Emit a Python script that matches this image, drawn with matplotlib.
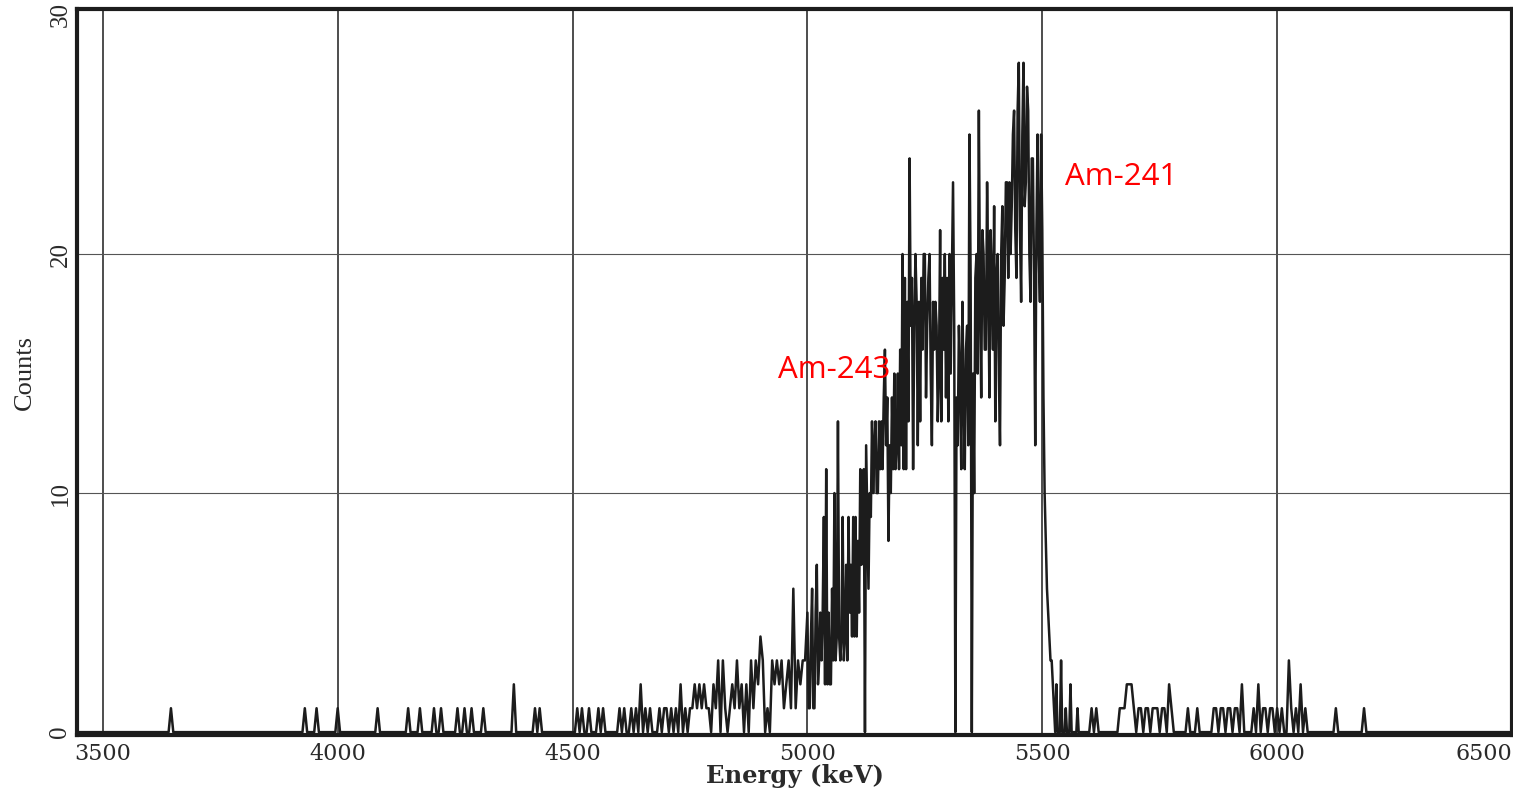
import matplotlib
matplotlib.use("Agg")
import matplotlib.pyplot as plt
import numpy as np

# -------------------------- Data --------------------------
# isolated counts on the low side (keV, counts), 5 keV channels
low_kev = [3645, 3930, 3955, 4000, 4085, 4150, 4175, 4205, 4220, 4255, 4270, 4285,
           4310, 4375, 4420, 4430, 4510, 4520, 4535, 4555, 4565, 4600, 4610, 4625,
           4635, 4645, 4655, 4665]
low_counts = [1, 1, 1, 1, 1, 1, 1, 1, 1, 1, 1, 1,
              1, 2, 1, 1, 1, 1, 1, 1, 1, 1, 1, 1,
              1, 2, 1, 1]

# rising tail, 5 keV channels from 4680 keV to 4995 keV
tail_start_kev = 4680
tail_counts = [
    0, 1, 0, 1, 1, 0, 1, 0, 1, 0,        # 4680
    2, 0, 1, 0, 1, 1, 2, 1, 2, 1,        # 4730
    2, 1, 1, 0, 2, 1, 3, 0, 3, 1,        # 4780
    0, 1, 2, 1, 3, 1, 2, 0, 2, 0,        # 4830
    3, 1, 3, 2, 4, 3, 0, 1, 0, 3,        # 4880
    2, 3, 2, 3, 1, 2, 3, 1, 6, 1,        # 4930
    3, 2, 3, 3,                          # 4980
]

# Am-243 / Am-241 peaks, 2.5 keV channels from 5000 keV
peak_start_kev = 5000
peak_counts = [
    5, 1, 1, 4, 6, 1, 1, 5, 7, 2, 3, 5, 3, 5, 9, 2, 11, 2, 5, 2,             # 5000
    2, 6, 3, 10, 3, 4, 13, 4, 3, 4, 9, 3, 4, 7, 3, 9, 5, 7, 4, 9,            # 5050
    4, 9, 4, 8, 5, 11, 7, 10, 11, 0, 12, 9, 6, 10, 9, 13, 10, 12, 13, 10,    # 5100
    10, 13, 11, 13, 11, 14, 16, 12, 14, 8, 12, 10, 14, 11, 15, 11, 12, 15, 11, 16,  # 5150
    12, 20, 11, 19, 11, 18, 13, 24, 17, 19, 11, 17, 20, 18, 12, 18, 13, 19, 16, 20,  # 5200
    20, 14, 17, 19, 20, 15, 12, 18, 16, 18, 17, 13, 15, 21, 13, 19, 16, 20, 14, 19,  # 5250
    13, 20, 15, 19, 23, 17, 0, 14, 12, 17, 15, 11, 18, 14, 11, 16, 17, 12, 25, 19,   # 5300
    0, 15, 10, 19, 20, 15, 26, 18, 14, 21, 20, 16, 16, 23, 19, 14, 21, 19, 16, 22,   # 5350
    13, 19, 20, 15, 12, 20, 22, 17, 19, 23, 23, 19, 23, 20, 22, 25, 26, 21, 19, 26,  # 5400
    28, 21, 18, 25, 28, 22, 23, 27, 26, 20, 18, 24, 24, 19, 12, 21, 25, 20, 18, 25,  # 5450
    21, 14, 10, 8, 6, 5, 4, 3, 3, 2, 1, 0, 2, 0, 0, 0, 3, 0, 0, 0,           # 5500
    1, 0, 0, 0, 2, 0, 0, 0, 0, 0, 1, 0,                                       # 5550
]

# isolated counts on the high side (keV, counts), 5 keV channels
high_kev = [5605, 5615, 5665, 5670, 5675, 5680, 5685, 5690, 5695, 5705, 5710, 5720,
            5725, 5735, 5740, 5745, 5755, 5760, 5770, 5775, 5810, 5830, 5865, 5870,
            5880, 5885, 5895, 5900, 5910, 5915, 5925, 5950, 5960, 5970, 5975, 5985,
            5990, 6000, 6010, 6025, 6030, 6040, 6050, 6060, 6125, 6185]
high_counts = [1, 1, 1, 1, 1, 2, 2, 2, 1, 1, 1, 1,
               1, 1, 1, 1, 1, 1, 2, 1, 1, 1, 1, 1,
               1, 1, 1, 1, 1, 1, 2, 1, 2, 1, 1, 1,
               1, 1, 1, 3, 1, 1, 2, 1, 1, 1]

x_ticks = [3500, 4000, 4500, 5000, 5500, 6000, 6500]
y_ticks = [0, 10, 20, 30]

# -------------------------- Assemble the channels --------------------------
e_low = np.arange(3445, peak_start_kev, 5)
c_low = np.zeros(len(e_low))
for e, c in zip(low_kev, low_counts):
    c_low[(e - 3445) // 5] = c
i0 = (tail_start_kev - 3445) // 5
c_low[i0:i0 + len(tail_counts)] = tail_counts

e_peak = peak_start_kev + 2.5 * np.arange(len(peak_counts))

e_high = np.arange(5580, 6505, 5)
c_high = np.zeros(len(e_high))
for e, c in zip(high_kev, high_counts):
    c_high[(e - 5580) // 5] = c

energy = np.concatenate([e_low, e_peak, e_high])
counts = np.concatenate([c_low, np.array(peak_counts, float), c_high])

# -------------------------- Plot --------------------------
W, H = 1513, 790
fig = plt.figure(figsize=(W / 100, H / 100), dpi=100)
left, right, top, bottom = 77, 1512, 9, 735
ax = fig.add_axes([left / W, (H - bottom) / H, (right - left) / W, (bottom - top) / H])

ink = '#1c1c1c'
for xv in x_ticks[:-1]:
    ax.axvline(xv, color=ink, lw=1.1, zorder=1)
for yv in [10, 20]:
    ax.axhline(yv, color='#555555', lw=0.8, zorder=1)

ax.plot(energy, counts, color=ink, lw=1.8, zorder=3)

ax.set_xlim(3445, 6500)
ax.set_ylim(-0.12, 30.25)
ax.set_xticks(x_ticks)
ax.set_yticks(y_ticks)
ax.tick_params(length=0)
ax.tick_params(axis='x', pad=6)
ax.tick_params(axis='y', pad=4)
for lbl in ax.get_xticklabels():
    lbl.set_fontfamily('DejaVu Serif')
    lbl.set_fontsize(16)
    lbl.set_color('#2a2a2a')
ax.get_xticklabels()[-1].set_ha('right')
for lbl in ax.get_yticklabels():
    lbl.set_fontfamily('Liberation Serif')
    lbl.set_fontsize(18)
    lbl.set_rotation(90)
    lbl.set_va('center')
    lbl.set_color('#2a2a2a')

for s in ax.spines.values():
    s.set_linewidth(3)
    s.set_color(ink)

ax.set_xlabel('Energy (keV)', fontfamily='DejaVu Serif', fontweight='bold',
              fontsize=17.5, color='#2a2a2a', labelpad=-1)
ax.set_ylabel('Counts', fontfamily='Liberation Serif', fontsize=19,
              color='#2a2a2a', labelpad=10)

ax.text(5548, 22.9, 'Am-241', color='#ff0000', fontfamily='Open Sans',
        fontsize=22.5, ha='left', va='baseline')
ax.text(4937, 14.8, 'Am-243', color='#ff0000', fontfamily='Open Sans',
        fontsize=22.5, ha='left', va='baseline')

fig.savefig('out.png', dpi=100)
